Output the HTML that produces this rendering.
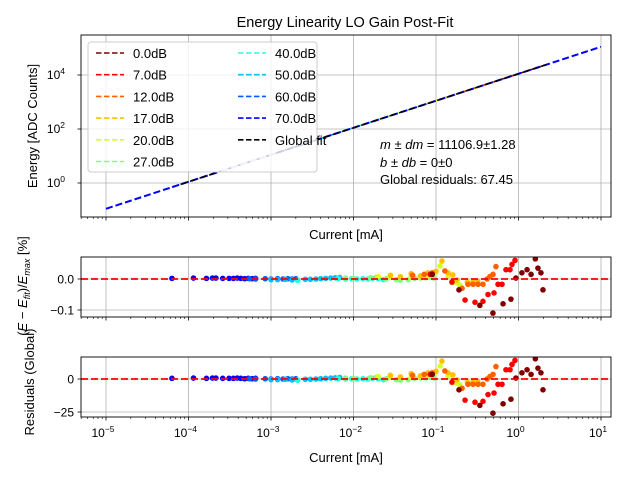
<!DOCTYPE html>
<html><head><meta charset="utf-8"><style>
body{margin:0;background:#fff;}
svg{display:block;font-family:"Liberation Sans","DejaVu Sans",sans-serif;}
</style></head><body>
<svg id="chart" width="640" height="480" viewBox="0 0 640 480" xmlns="http://www.w3.org/2000/svg"></svg>
<script>
const seriesNames = ["0.0dB","7.0dB","12.0dB","17.0dB","20.0dB","27.0dB","40.0dB","50.0dB","60.0dB","70.0dB"];
const seriesColors = ["#800000","#ff0000","#ff6000","#ffc000","#d4ff2a","#80ff80","#20ffdf","#00bfff","#0060ff","#0000ff"];
const currents0 = [0.09,0.19,0.34,0.49,0.65,0.81,0.93,1.1,1.27,1.42,1.6,1.72,1.87,1.98];
const pct0 = [0.015,-0.035,-0.085,-0.11,-0.08,-0.065,0.003,0.02,0.03,0.015,0.065,0.035,0.02,-0.035];
const glob0 = [3.5,-8.2,-20,-25.9,-18.8,-15.3,0.7,4.7,7,3.5,15.3,8.2,4.7,-8.2];
const currents7 = [0.085,0.156,0.225,0.297,0.371,0.427,0.505,0.565,0.631,0.705,0.789,0.834,0.907];
const pct7 = [0.015,-0.01,-0.068,-0.075,-0.072,-0.05,-0.045,-0.017,-0.017,0.03,0.03,0.047,0.06];
const glob7 = [3.5,-2.4,-16,-17.6,-16.9,-11.8,-10.6,-4,-4,7,7,11,14.1];
const currents12 = [0.052,0.072,0.09,0.128,0.207,0.244,0.281,0.323,0.371,0.416,0.451,0.491,0.533];
const pct12 = [0.012,0.015,0.02,0.026,-0.03,-0.017,-0.017,-0.017,-0.017,0,0.008,0.015,0.04];
const glob12 = [2.8,3.5,4.7,6.1,-7,-4,-4,-4,-4,0,1.9,3.5,9.4];
const currents17 = [0.028,0.037,0.05,0.065,0.08,0.1,0.118,0.14,0.16,0.18,0.24,0.28,0.32];
const pct17 = [0.012,0.007,0.017,0.01,0.02,0.025,0.058,0.02,0.013,-0.003,-0.01,-0.01,-0.008];
const glob17 = [2.8,1.6,4,2.4,4.7,5.9,13.6,4.7,3.1,-0.7,-2.4,-2.4,-1.9];
const currents20 = [0.02,0.028,0.037,0.05,0.064,0.08,0.098,0.112,0.14,0.165,0.18,0.195];
const pct20 = [0.008,0.006,0.006,0.005,0.008,0.01,0.02,0.042,0.01,-0.01,-0.013,-0.02];
const glob20 = [1.9,1.4,1.4,1.2,1.9,2.4,4.7,9.9,2.4,-2.4,-3.1,-4.7];
const currents27 = [0.008,0.01,0.016,0.019,0.025,0.033,0.037,0.046,0.055,0.065,0.075,0.085,0.095];
const pct27 = [0.003,0.002,0.004,0.006,0.001,-0.002,-0.004,-0.002,0.002,0.003,0.004,0.005,0.003];
const glob27 = [0.7,0.5,0.9,1.4,0.2,-0.5,-0.9,-0.5,0.5,0.7,0.9,1.2,0.7];
const currents40 = [0.0021,0.0065,0.008,0.0095,0.011,0.013,0.015,0.017,0.02,0.023];
const pct40 = [-0.004,0.001,0,0.001,0,0.001,0,0.002,0.001,-0.002];
const glob40 = [-0.9,0.2,0,0.2,0,0.2,0,0.5,0.2,-0.5];
const currents50 = [0.001,0.0012,0.0015,0.0018,0.0021,0.0026,0.003,0.0035,0.004,0.0046,0.0053,0.006,0.0068];
const pct50 = [-0.002,-0.002,-0.001,-0.003,-0.004,-0.001,-0.001,0,0.001,0.002,0.003,0.004,0.005];
const glob50 = [-0.5,-0.5,-0.2,-0.7,-0.9,-0.2,-0.2,0,0.2,0.5,0.7,0.9,1.2];
const currents60 = [0.00055,0.00065,0.00085,0.001,0.0012,0.0014,0.0016,0.0018,0.002];
const pct60 = [0.001,0,0.001,0,0.001,0,0.001,0,0.001];
const glob60 = [0.2,0,0.2,0,0.2,0,0.2,0,0.2];
const currents70 = [6.3e-5,1.15e-4,1.65e-4,1.95e-4,2.15e-4,2.6e-4,3.1e-4,3.5e-4,3.9e-4,4.3e-4,4.8e-4,5.3e-4,5.9e-4,6.5e-4];
const pct70 = [0.002,0.003,0.002,0.003,0.003,0.002,0.002,0.002,0.003,0.002,0.001,0.002,0.001,0.002];
const glob70 = [0.5,0.7,0.5,0.7,0.7,0.5,0.5,0.5,0.7,0.5,0.2,0.5,0.2,0.5];
const slope = 11106.9;
const intercept = 0;
const xTickExps = [-5,-4,-3,-2,-1,0,1];
const topYTickExps = [0,2,4];
const midYTicks = [0.0,-0.1];
const midYTickLabels = ["0.0","\u22120.1"];
const botYTicks = [0,-25];
const botYTickLabels = ["0","\u221225"];

const allCurrents=[currents0,currents7,currents12,currents17,currents20,currents27,currents40,currents50,currents60,currents70];
const allPct=[pct0,pct7,pct12,pct17,pct20,pct27,pct40,pct50,pct60,pct70];
const allGlob=[glob0,glob7,glob12,glob17,glob20,glob27,glob40,glob50,glob60,glob70];

const svg=document.getElementById('chart');
const NS="http://www.w3.org/2000/svg";
function mk(tag,attrs,parent){const e=document.createElementNS(NS,tag);for(const k in attrs)e.setAttribute(k,attrs[k]);(parent||svg).appendChild(e);return e;}
const L=81,R=611;
const xS=v=>106+(Math.log10(v)+5)*82.5;
const topP={t:35,b:217}, midP={t:257,b:317}, botP={t:357,b:417};
const yTop=e=>183-27*Math.log10(e);
const yMid=p=>279-p*310;
const yBot=g=>379-g*1.32;

// title
let t=mk('text',{x:345,y:27,'text-anchor':'middle','font-size':14.5});t.textContent="Energy Linearity LO Gain Post-Fit";


function clip(id,p){const c=mk('clipPath',{id:id});mk('rect',{x:L,y:p.t,width:R-L,height:p.b-p.t},c);}
clip('cTop',topP);clip('cMid',midP);clip('cBot',botP);

function xAxis(p,labels,name){
  const g=mk('g',{});
  
  
  xTickExps.forEach(ex=>{
    const x=xS(Math.pow(10,ex));
    mk('line',{x1:x,x2:x,y1:p.t,y2:p.b,stroke:'#b0b0b0','stroke-width':0.8},g);
    mk('line',{x1:x,x2:x,y1:p.b,y2:p.b+3.5,stroke:'#000','stroke-width':0.8},g);
    if(labels){
      const tx=mk('text',{x:x-3,y:p.b+20,'text-anchor':'middle','font-size':12},g);
      tx.textContent="10";
      const s=mk('tspan',{dy:-5,'font-size':8.5},tx);s.textContent=(ex<0?"\u2212":"")+Math.abs(ex);
    }
  });
  for(let ex=-6;ex<=1;ex++)for(let m=2;m<10;m++){
    const v=m*Math.pow(10,ex);const x=xS(v);
    if(x<L||x>R)continue;
    mk('line',{x1:x,x2:x,y1:p.b,y2:p.b+2,stroke:'#000','stroke-width':0.6},g);
  }
}
function frame(p,name){const r=mk('rect',{x:L,y:p.t,width:R-L,height:p.b-p.t,fill:'none',stroke:'#000','stroke-width':0.9});}

// TOP panel
xAxis(topP,false,'top-x-axis');
topYTickExps.forEach(ex=>{
  const y=yTop(Math.pow(10,ex));
  mk('line',{x1:L,x2:R,y1:y,y2:y,stroke:'#b0b0b0','stroke-width':0.8});
  mk('line',{x1:L-3.5,x2:L,y1:y,y2:y,stroke:'#000','stroke-width':0.8});
  const tx=mk('text',{x:L-16,y:y+4,'text-anchor':'end','font-size':12});tx.textContent="10";
  const s=mk('tspan',{dy:-5,'font-size':8.5},tx);s.textContent=ex;
});
const gTop=mk('g',{'clip-path':'url(#cTop)'});


function fitLine(i0,i1,color,w,name){
  const l=mk('line',{x1:xS(i0),y1:yTop(slope*i0+intercept),x2:xS(i1),y2:yTop(slope*i1+intercept),stroke:color,'stroke-width':w,'stroke-dasharray':'7,3'},gTop);
  
}
for(let s=0;s<10;s++){const c=allCurrents[s];fitLine(Math.min(...c),Math.max(...c),seriesColors[s],1.5,'series-line-'+s);}
fitLine(1e-5,10,'#0000ff',2,'series-line-70db-full');
fitLine(8e-5,2.2,'#000',1.5,'global-fit-line');
fitLine(2.5e-4,1.2e-3,'#c8c8ee',1.8,'overlap-segment');
frame(topP,'top-panel-frame');
let yl=mk('text',{transform:'translate(37,126) rotate(-90)','text-anchor':'middle','font-size':13});yl.textContent="Energy [ADC Counts]";

let xl=mk('text',{x:346,y:239,'text-anchor':'middle','font-size':13});xl.textContent="Current [mA]";


// legend
const lg=mk('g',{});


mk('rect',{x:88,y:42,width:229,height:130,rx:3,fill:'#fff','fill-opacity':0.8,stroke:'#ccc','stroke-width':1},lg);
const legNames=seriesNames.concat(["Global fit"]);const legCols=seriesColors.concat(["#000"]);
legNames.forEach((n,i)=>{
  const col=i<6?0:1,row=i<6?i:i-6;
  const x=col?238:96,y=53+row*21.7;
  const e=mk('g',{},lg);
  
  
  mk('line',{x1:x,x2:x+28,y1:y,y2:y,stroke:legCols[i],'stroke-width':1.6,'stroke-dasharray':'5.5,2.5'},e);
  const tx=mk('text',{x:x+37,y:y+5,'font-size':13},e);tx.textContent=n;
});
const ann=mk('g',{'font-size':13});


let a1=mk('text',{x:380,y:149},ann);a1.innerHTML='<tspan font-style="italic">m</tspan> \u00b1 <tspan font-style="italic">dm</tspan> = 11106.9\u00b11.28';
let a2=mk('text',{x:380,y:167},ann);a2.innerHTML='<tspan font-style="italic">b</tspan> \u00b1 <tspan font-style="italic">db</tspan> = 0\u00b10';
let a3=mk('text',{x:380,y:184},ann);a3.textContent='Global residuals: 67.45';

// MID & BOT panels
function resPanel(p,ticks,labels,yf,data,clipId,name){
  xAxis(p,name==='global-residual-panel',name+'-x-axis');
  ticks.forEach((v,i)=>{
    const y=yf(v);
    mk('line',{x1:L,x2:R,y1:y,y2:y,stroke:'#b0b0b0','stroke-width':0.8});
    mk('line',{x1:L-3.5,x2:L,y1:y,y2:y,stroke:'#000','stroke-width':0.8});
    const tx=mk('text',{x:L-7,y:y+4.5,'text-anchor':'end','font-size':12});tx.textContent=labels[i];
  });
  const g=mk('g',{'clip-path':'url(#'+clipId+')'});
  
  
  for(let s=9;s>=0;s--){
    allCurrents[s].forEach((c,i)=>{
      const pt=mk('circle',{cx:xS(c),cy:yf(data[s][i]),r:2.8,fill:seriesColors[s]},g);
      
      
    });
  }
  const z=mk('line',{x1:L,x2:R,y1:yf(0),y2:yf(0),stroke:'#ff0000','stroke-width':1.8,'stroke-dasharray':'7,3'});
  
  frame(p,name+'-frame');
}
resPanel(midP,midYTicks,midYTickLabels,yMid,allPct,'cMid','percent-residual-panel');
resPanel(botP,botYTicks,botYTickLabels,yBot,allGlob,'cBot','global-residual-panel');
let ml=mk('text',{transform:'translate(27,286) rotate(-90)','text-anchor':'middle','font-size':13});
ml.innerHTML='(<tspan font-style="italic">E</tspan> \u2212 <tspan font-style="italic">E</tspan><tspan font-size="9" font-style="italic" dy="3">fit</tspan><tspan dy="-3">)/</tspan><tspan font-style="italic">E</tspan><tspan font-size="9" font-style="italic" dy="3">max</tspan><tspan dy="-3"> [%]</tspan>';

let bl=mk('text',{transform:'translate(34,382) rotate(-90)','text-anchor':'middle','font-size':13});bl.textContent="Residuals (Global)";

let xl2=mk('text',{x:346,y:462,'text-anchor':'middle','font-size':13});xl2.textContent="Current [mA]";

</script>
</body></html>
